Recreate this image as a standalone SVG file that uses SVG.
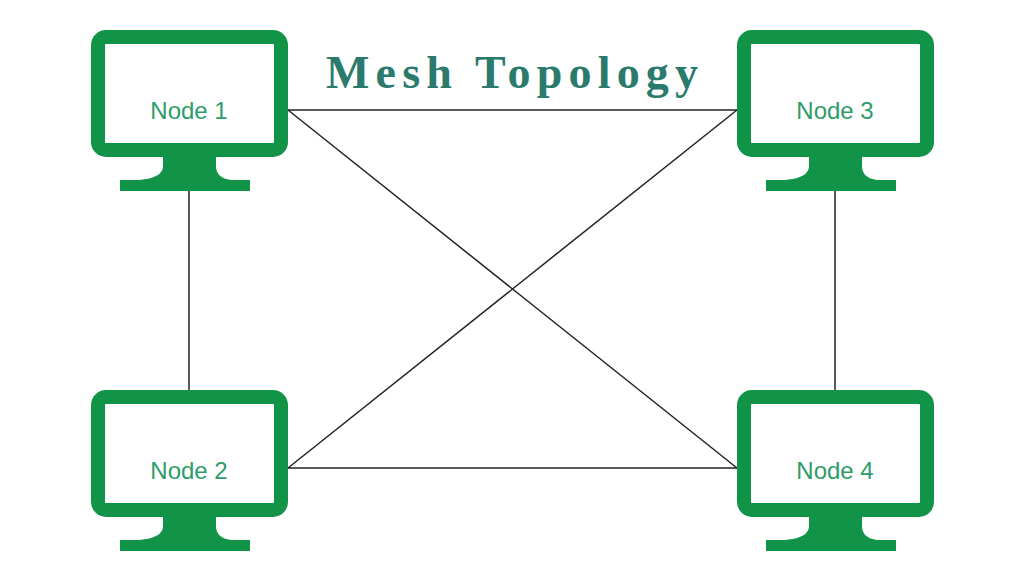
<svg xmlns="http://www.w3.org/2000/svg" width="1024" height="576" viewBox="0 0 1024 576">
<defs>
<style>
.scr{fill:#ffffff;stroke:#119447;stroke-width:14}
.st{fill:#119447}
.lbl{font-family:"Liberation Sans",Arial,sans-serif;font-size:24px;fill:#2e9c68;text-anchor:middle}
.ln{stroke:#222;stroke-width:1.5;fill:none}
</style>
<g id="mon">
<rect class="scr" x="7" y="7" width="183" height="113" rx="8"/>
<path class="st" d="M72 126 H125 V136 Q125 148 140 150 H159 V161 H29 V150 H48 Q72 148 72 136 Z"/>
</g>
</defs>
<rect width="1024" height="576" fill="#fff"/>
<text x="512" y="88" font-family="'Liberation Serif',serif" font-weight="bold" font-size="46" fill="#2b7a6e" text-anchor="middle" textLength="372">Mesh Topology</text>
<g id="connectors">
<line class="ln" x1="288" y1="110" x2="737" y2="110"/>
<line class="ln" x1="288" y1="468" x2="737" y2="468"/>
<line class="ln" x1="288" y1="110" x2="737" y2="468"/>
<line class="ln" x1="288" y1="468" x2="737" y2="110"/>
<line class="ln" x1="189" y1="191" x2="189" y2="390"/>
<line class="ln" x1="835" y1="191" x2="835" y2="390"/>
</g>
<g id="node1"><use href="#mon" x="91" y="30"/><text class="lbl" x="189" y="119">Node 1</text></g>
<g id="node3"><use href="#mon" x="737" y="30"/><text class="lbl" x="835" y="119">Node 3</text></g>
<g id="node2"><use href="#mon" x="91" y="390"/><text class="lbl" x="189" y="479">Node 2</text></g>
<g id="node4"><use href="#mon" x="737" y="390"/><text class="lbl" x="835" y="479">Node 4</text></g>
</svg>
